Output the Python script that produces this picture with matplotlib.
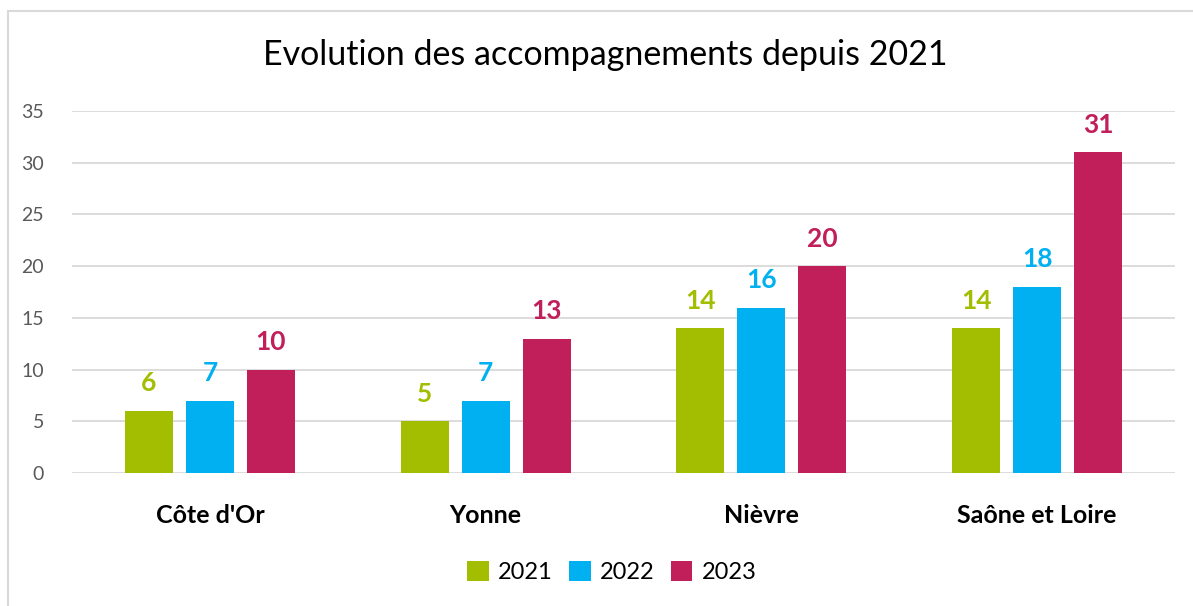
import matplotlib.pyplot as plt
import numpy as np
from matplotlib.patches import Rectangle

categories = ["Côte d'Or", "Yonne", "Nièvre", "Saône et Loire"]
years = ["2021", "2022", "2023"]
v2021 = [6, 5, 14, 14]
v2022 = [7, 7, 16, 18]
v2023 = [10, 13, 20, 31]
colors = ["#A3BE00", "#00B0F0", "#C01F5A"]

plt.rcParams['font.family'] = ['Lato', 'DejaVu Sans']

fig = plt.figure(figsize=(11.93, 6.06), dpi=100)
ax = fig.add_axes([72 / 1193, 1 - 473 / 606, 1103 / 1193, 362 / 606])

# light frame around the chart
fig.patches.append(Rectangle((8 / 1193, -0.05), 1.2, 1 - 11 / 606 + 0.05,
                             transform=fig.transFigure, fill=False,
                             edgecolor="#D9D9D9", linewidth=1.5))

x = np.arange(len(categories))
w = 0.174
pitch = 0.221
series = [v2021, v2022, v2023]
for i, vals in enumerate(series):
    pos = x + (i - 1) * pitch
    ax.bar(pos, vals, width=w, color=colors[i], label=years[i], zorder=3)
    for xp, v in zip(pos, vals):
        ax.text(xp, v + 1.5, str(v), ha='center', va='bottom', color=colors[i],
                fontsize=19, fontweight='bold')

ax.set_xlim(-0.5, len(categories) - 0.5)
ax.set_ylim(0, 35)
ax.set_yticks(range(0, 36, 5))
ax.yaxis.grid(True, color="#D9D9D9", linewidth=1.3, zorder=0)
ax.set_axisbelow(True)
for s in ax.spines.values():
    s.set_visible(False)
ax.tick_params(axis='y', length=0, labelsize=14, labelcolor="#595959", pad=20)
ax.tick_params(axis='x', length=0, pad=22)
ax.set_xticks(x)
ax.set_xticklabels(categories, fontsize=18, fontweight='bold')

fig.text(605 / 1193, 1 - 55 / 606, "Evolution des accompagnements depuis 2021",
         ha='center', va='center', fontsize=24.5)

fig.legend(loc='center', bbox_to_anchor=(612 / 1193, 1 - 572 / 606), ncol=3,
           frameon=False, fontsize=17, handlelength=0.9, handleheight=0.9,
           handletextpad=0.4, columnspacing=0.7)

fig.savefig("out.png", dpi=100)
